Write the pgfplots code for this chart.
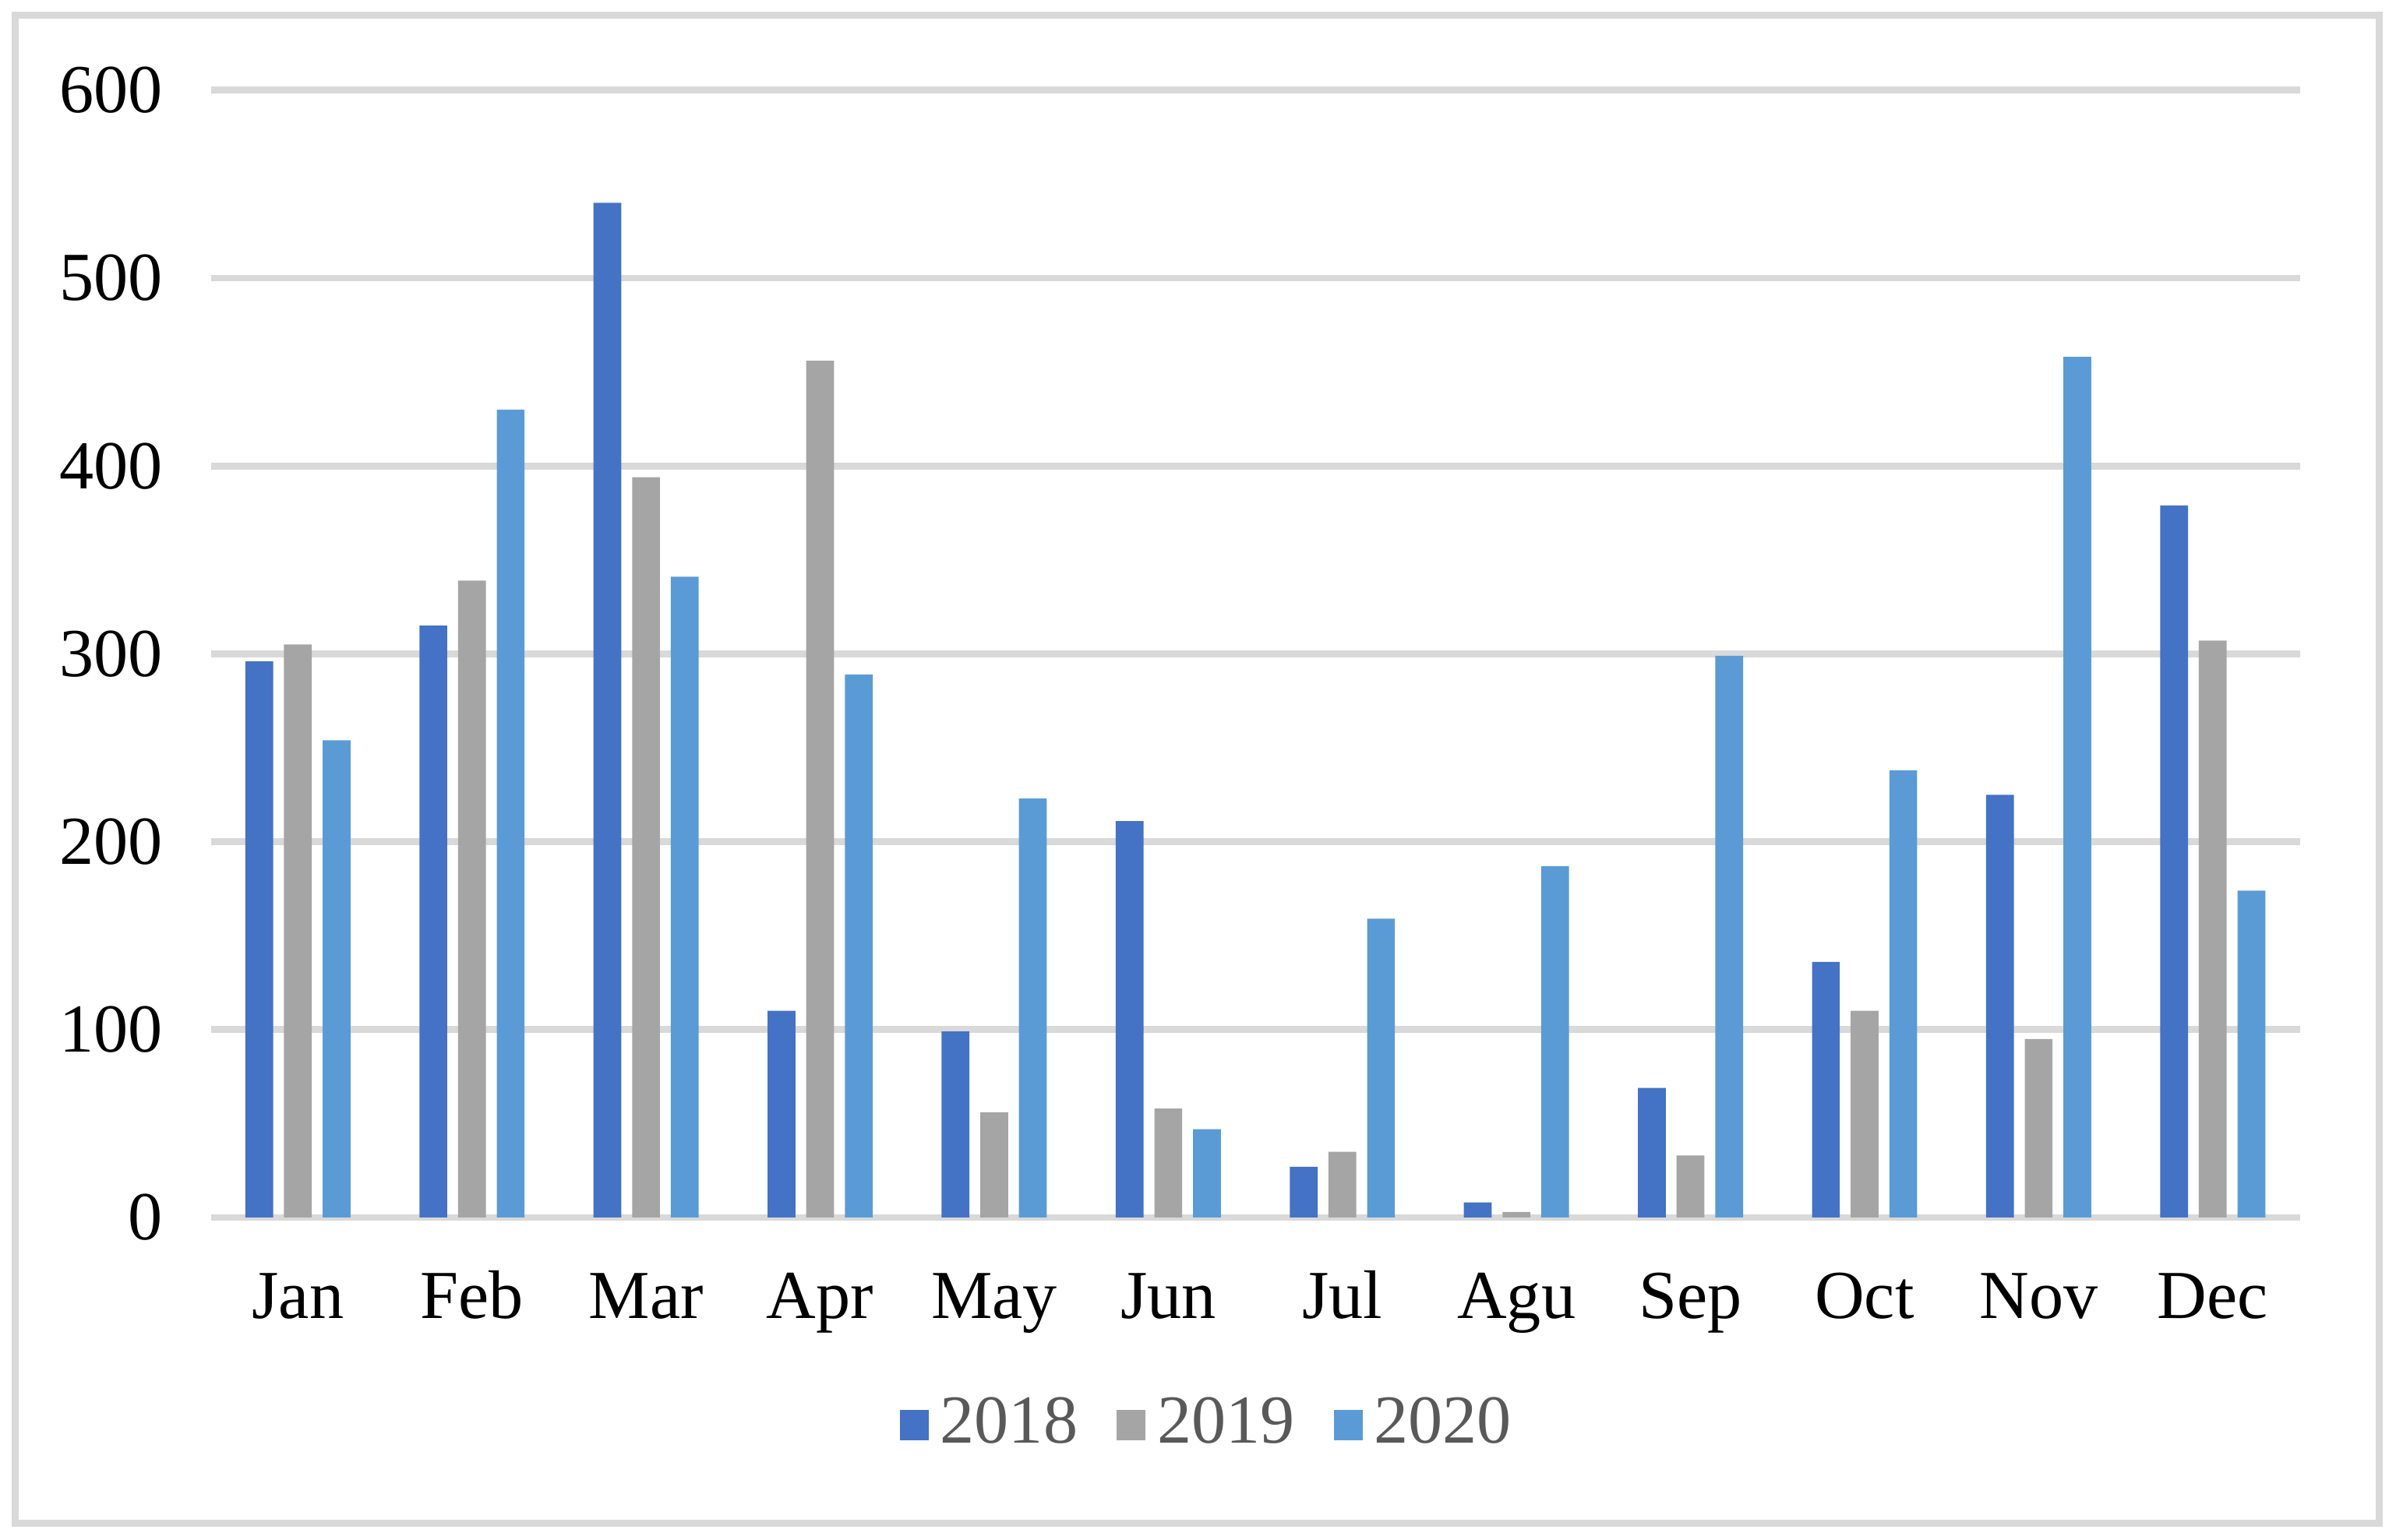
\documentclass[border=0pt]{standalone}
\usepackage{fontspec}
\setmainfont{Liberation Serif}
\usepackage{pgfplots}
\pgfplotsset{compat=1.18}
\definecolor{c18}{HTML}{4472C4}
\definecolor{c19}{HTML}{A5A5A5}
\definecolor{c20}{HTML}{5B9BD5}
\definecolor{gridc}{HTML}{D9D9D9}
\definecolor{legtxt}{HTML}{595959}

\begin{document}
\fontsize{12.8}{15}\selectfont
\begin{tikzpicture}
\useasboundingbox (0,0) rectangle (15.68,10.08);
\draw[gridc, line width=0.045cm] (0.10,0.11) rectangle (15.57,9.98);
\begin{axis}[
    at={(1.38cm,2.11cm)}, anchor=south west,
    scale only axis,
    width=13.67cm, height=7.38cm,
    ybar=0.071cm, bar width=0.182cm,
    xmin=-0.5, xmax=11.5, ymin=0, ymax=600,
    xtick=data,
    xticklabels={Jan,Feb,Mar,Apr,May,Jun,Jul,Agu,Sep,Oct,Nov,Dec},
    ytick={0,100,...,600},
    /pgf/number format/assume math mode=true,
    axis line style={draw=none},
    major tick length=0pt,
    ymajorgrids=true,
    grid style={draw=gridc, line width=0.045cm},
    tick label style={font=\fontsize{12.8}{15}\selectfont},
    y tick label style={xshift=-0.16cm},
    x tick label style={anchor=base, yshift=-0.66cm},
    legend columns=3,
    legend style={draw=none, fill=none, at={(0.479,-0.184)}, anchor=center,
      font=\fontsize{12.8}{15}\selectfont, text=legtxt,
      nodes={inner xsep=0.075cm},
      /tikz/every even column/.append style={column sep=0.18cm}},
    legend image code/.code={\fill[#1] (0cm,-0.1cm) rectangle (0.19cm,0.1cm);},
]
\addplot[fill=c18, draw=none] coordinates {
  (0,296) (1,315) (2,540) (3,110) (4,99) (5,211)
  (6,27) (7,8) (8,69) (9,136) (10,225) (11,379)
};
\addplot[fill=c19, draw=none] coordinates {
  (0,305) (1,339) (2,394) (3,456) (4,56) (5,58)
  (6,35) (7,3) (8,33) (9,110) (10,95) (11,307)
};
\addplot[fill=c20, draw=none] coordinates {
  (0,254) (1,430) (2,341) (3,289) (4,223) (5,47)
  (6,159) (7,187) (8,299) (9,238) (10,458) (11,174)
};
\legend{2018,2019,2020}
\end{axis}
\end{tikzpicture}
\end{document}
